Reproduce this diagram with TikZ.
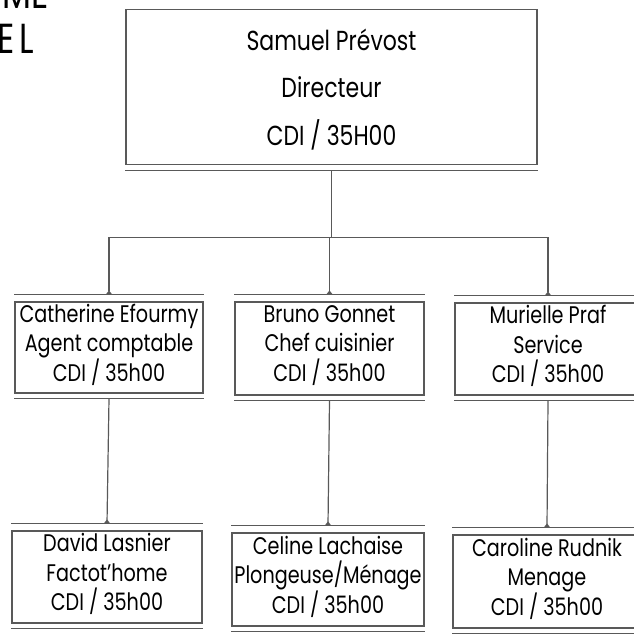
\documentclass[tikz,border=0pt]{standalone}
\usepackage{fontspec}
\setmainfont{Poppins}[FakeStretch=0.80]
\usepackage{tikz}
\usetikzlibrary{arrows.meta}

\begin{document}
\begin{tikzpicture}[x=1pt,y=-1pt,>={Triangle[reversed,length=4pt,width=6pt]},
poste/.style={draw=black!65,line width=1.2pt,inner sep=0pt,align=center,text depth=10pt,font=\fontsize{24}{29.5}\selectfont},
lien/.style={draw=black!65,line width=1.2pt},
titre/.style={inner sep=0pt,font=\fontsize{42}{44}\selectfont}]
\useasboundingbox (0,0) rectangle (634,633);
% titre (coupe a gauche)
\node[titre,anchor=base east] (t1) at (49,8) {ME};
\node[titre,anchor=base east] (t2) at (34,53) {E\kern5pt L};
% direction
\node[poste,minimum width=411pt,minimum height=155pt,text depth=0pt,font=\fontsize{27.5}{47.5}\selectfont] (dir) at (331.5,87)
  {Samuel Prévost\\Directeur\\CDI / 35H00};
% premier niveau
\node[poste,minimum width=188pt,minimum height=91pt] (cath) at (109,347.5)
  {Catherine Efourmy\\Agent comptable\\CDI / 35h00};
\node[poste,minimum width=189pt,minimum height=93pt] (bruno) at (329.5,348.5)
  {Bruno Gonnet\\Chef cuisinier\\CDI / 35h00};
\node[poste,minimum width=186pt,minimum height=92pt] (mur) at (548,349)
  {Murielle Praf\\Service\\CDI / 35h00};
% second niveau
\node[poste,minimum width=190pt,minimum height=92pt] (david) at (107,577)
  {David Lasnier\\Factot'home\\CDI / 35h00};
\node[poste,minimum width=192pt,minimum height=93pt] (celine) at (328,579.5)
  {Celine Lachaise\\Plongeuse/Ménage\\CDI / 35h00};
\node[poste,minimum width=188pt,minimum height=93pt] (caro) at (547,581.5)
  {Caroline Rudnik\\Menage\\CDI / 35h00};
% filets
\draw[lien] ([yshift=-5pt]dir.south west) -- ([yshift=-5pt]dir.south east);
\foreach \n in {cath,bruno,mur,david,celine,caro} {
  \draw[lien] ([yshift=7pt]\n.north west) -- ([yshift=7pt]\n.north east);
  \draw[lien] ([yshift=-5pt]\n.south west) -- ([yshift=-5pt]\n.south east);
}
% liaisons
\draw[lien] ([yshift=-5pt]dir.south) -- ++(0,67) coordinate (bus);
\foreach \n in {cath,bruno,mur}
  \draw[lien,->] (bus) -| ([yshift=7pt]\n.north);
\foreach \h/\b in {cath/david,bruno/celine,mur/caro}
  \draw[lien,->] ([yshift=-5pt]\h.south) -- ([yshift=7pt]\b.north);
\end{tikzpicture}
\end{document}
